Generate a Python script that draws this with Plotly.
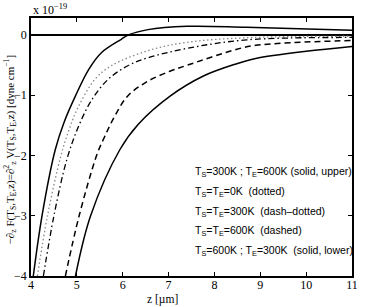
import plotly.graph_objects as go

# Data (y in units of 1e-19 dyne/cm)
z_upper = [4.05, 4.24, 4.53, 4.72, 4.97, 5.26, 5.54, 5.97, 6.12, 6.55, 7.4, 8.7, 11.0]
v_upper = [-4.0, -3.0, -1.9, -1.45, -1.01, -0.57, -0.29, -0.07, 0.0, 0.09, 0.145, 0.13, 0.08]

z_dot = [4.14, 4.36, 4.65, 4.83, 5.04, 5.4, 5.75, 6.55, 7.41, 8.7, 11.0]
v_dot = [-4.0, -3.0, -2.01, -1.57, -1.18, -0.73, -0.51, -0.26, -0.12, -0.045, -0.02]

z_dashdot = [4.27, 4.5, 4.78, 5.04, 5.33, 5.69, 6.11, 6.54, 7.41, 8.7, 11.0]
v_dashdot = [-4.0, -3.0, -2.07, -1.51, -1.07, -0.73, -0.51, -0.38, -0.22, -0.08, -0.04]

z_dash = [4.75, 5.05, 5.44, 5.61, 5.83, 6.11, 6.54, 7.03, 7.41, 8.47, 8.9, 11.0]
v_dash = [-4.0, -3.0, -1.98, -1.68, -1.34, -1.01, -0.77, -0.6, -0.5, -0.24, -0.17, -0.09]

z_lower = [4.97, 5.3, 5.94, 6.34, 7.04, 7.76, 8.47, 8.9, 10.0, 11.0]
v_lower = [-4.0, -3.0, -1.9, -1.48, -1.01, -0.68, -0.48, -0.39, -0.27, -0.19]

x_ticks = [4, 5, 6, 7, 8, 9, 10, 11]
y_ticks = [0, -1, -2, -3, -4]

legend_lines = [
    "T<sub>S</sub>=300K ; T<sub>E</sub>=600K (solid, upper)",
    "T<sub>S</sub>=T<sub>E</sub>=0K\u00a0 (dotted)",
    "T<sub>S</sub>=T<sub>E</sub>=300K\u00a0 (dash\u2013dotted)",
    "T<sub>S</sub>=T<sub>E</sub>=600K\u00a0 (dashed)",
    "T<sub>S</sub>=600K ; T<sub>E</sub>=300K\u00a0 (solid, lower)",
]
legend_y = [-2.27, -2.6, -2.93, -3.26, -3.59]

fig = go.Figure()
series = [
    (z_upper, v_upper, "black", 1.5, "solid"),
    (z_dot, v_dot, "#888888", 1.3, "1.5px,2.5px"),
    (z_dashdot, v_dashdot, "black", 1.3, "6px,3px,1.5px,3px"),
    (z_dash, v_dash, "black", 1.5, "6px,4px"),
    (z_lower, v_lower, "black", 1.5, "solid"),
]
for zs, vs, col, w, dash in series:
    fig.add_trace(go.Scatter(x=zs, y=vs, mode="lines",
                             line=dict(color=col, width=w, dash=dash, shape="spline", smoothing=1.0),
                             showlegend=False, hoverinfo="skip", cliponaxis=True))

serif = "Liberation Serif"
sans = "Liberation Sans"

for txt, yy in zip(legend_lines, legend_y):
    fig.add_annotation(x=7.53, y=yy, xref="x", yref="y", text=txt, showarrow=False,
                       xanchor="left", yanchor="middle",
                       font=dict(family=sans, size=10.5, color="black"))

W, H = 366, 307
ML, MR, MT, MB = 31, 8, 18, 31

fig.update_layout(
    width=W, height=H,
    margin=dict(l=ML, r=MR, t=MT, b=MB),
    paper_bgcolor="white", plot_bgcolor="white",
    font=dict(family=serif, size=12, color="black"),
    xaxis=dict(range=[4, 11], tickvals=x_ticks, ticks="inside", ticklen=4, tickwidth=1,
               tickcolor="black", showline=True, linecolor="black", linewidth=1.5,
               mirror="allticks", showgrid=False, zeroline=False, ticklabelstandoff=-3,
               tickfont=dict(family=serif, size=12)),
    yaxis=dict(range=[-4, 0.283], tickvals=y_ticks, ticks="inside", ticklen=4, tickwidth=1,
               tickcolor="black", showline=True, linecolor="black", linewidth=1.5,
               mirror="allticks", showgrid=False, zeroline=True, zerolinecolor="black",
               zerolinewidth=1.5, tickfont=dict(family=serif, size=12)),
)

def px(xp, yp):
    # pixel position in the page -> paper coordinates (relative to plot area)
    return (xp - ML) / (W - ML - MR), (H - MB - yp) / (H - MT - MB)

ax, ay = px(165, 299)
fig.add_annotation(x=ax, y=ay, xref="paper", yref="paper", text="z [\u00b5m]", showarrow=False,
                   xanchor="center", yanchor="middle", font=dict(family=serif, size=11.5))

ax, ay = px(10, 150)
fig.add_annotation(x=ax, y=ay, xref="paper", yref="paper",
                   text="\u2212\u2202<sub>z</sub> F(T<sub>S</sub>,T<sub>E</sub>,z)=\u2202<sup>2</sup><sub>z</sub> V(T<sub>S</sub>,T<sub>E</sub>,z) [dyne cm<sup>\u22121</sup>]",
                   showarrow=False, textangle=-90, xanchor="center", yanchor="middle",
                   font=dict(family=serif, size=11))

ax, ay = px(31, 10)
fig.add_annotation(x=ax, y=ay, xref="paper", yref="paper",
                   text="x 10<sup>\u221219</sup>", showarrow=False, xanchor="left", yanchor="middle",
                   font=dict(family=serif, size=12))

fig.write_html("out.html", config={"displayModeBar": False},
               post_script="document.body.style.margin='0';document.body.style.padding='0';document.body.style.overflow='hidden';")
